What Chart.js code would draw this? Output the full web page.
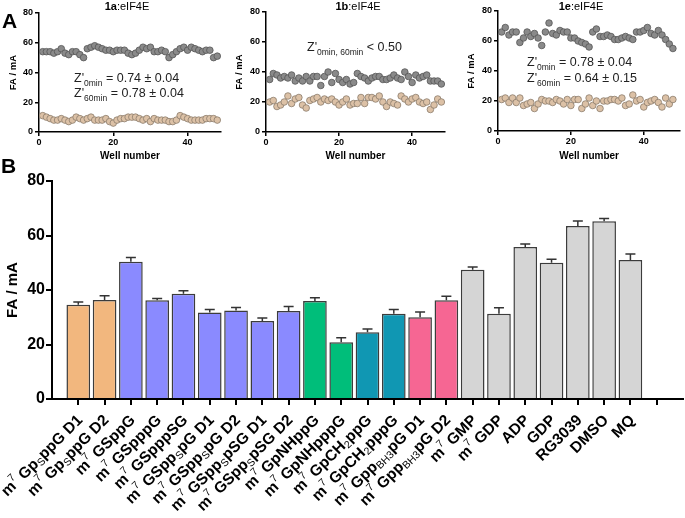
<!DOCTYPE html>
<html>
<head>
<meta charset="utf-8">
<script src="https://cdn.jsdelivr.net/npm/chart.js@4"></script>
<style>
body { margin: 0; background: #fff; }
#fig { position: relative; width: 685px; height: 518px; overflow: hidden; font-family: 'Liberation Sans', Arial, sans-serif; color: #000; }
.box { position: absolute; }
.lbl { position: absolute; font-weight: bold; font-size: 21px; line-height: 21px; }
.ttl { position: absolute; font-size: 11px; line-height: 12px; transform: translateX(-50%); white-space: nowrap; }
.z { position: absolute; font-size: 12.5px; color: #222; white-space: nowrap; }
.z sub { font-size: 8.5px; line-height: 0; }
</style>
</head>
<body>
<div id="fig">
  <div class="box" style="left:0;top:0"><canvas id="p1" width="228" height="165"></canvas></div>
  <div class="box" style="left:226px;top:0"><canvas id="p2" width="226" height="165"></canvas></div>
  <div class="box" style="left:458px;top:0"><canvas id="p3" width="227" height="165"></canvas></div>
  <div class="box" style="left:0;top:160px"><canvas id="bars" width="685" height="358"></canvas></div>

  <div class="lbl" style="left:2px;top:10px">A</div>
  <div class="lbl" style="left:1px;top:155px">B</div>

  <div class="ttl" style="left:127px;top:0"><b>1a</b>:eIF4E</div>
  <div class="ttl" style="left:358px;top:0"><b>1b</b>:eIF4E</div>
  <div class="ttl" style="left:581px;top:0"><b>1e</b>:eIF4E</div>

  <div class="z" style="left:74px;top:71px;line-height:15px">Z'<sub>0min</sub> = 0.74 ± 0.04<br>Z'<sub>60min</sub> = 0.78 ± 0.04</div>
  <div class="z" style="left:307px;top:40px;line-height:15px">Z'<sub>0min, 60min</sub> &lt; 0.50</div>
  <div class="z" style="left:527px;top:54px;line-height:16px">Z'<sub>0min</sub> = 0.78 ± 0.04<br>Z'<sub>60min</sub> = 0.64 ± 0.15</div>
</div>

<script>
Chart.defaults.font.family = "'Liberation Sans', Arial, sans-serif";
Chart.defaults.color = '#000';

// panel A: FA (mA) per well, t = 0 min (grey) and 60 min (tan)
const wells = Array.from({ length: 48 }, (_, i) => i + 1);
const wellTicks = [0, 20, 40];
const faTicks = [0, 20, 40, 60, 80];

const gray1a = [54,54,54,53,54,56,53,52,54,54,52,50, 56,57,58,57,56,55,55,54,55,55,55,53, 52,53,55,57,56,57,54,54,55,54,50,52, 54,56,57,55,57,56,55,54,55,55,50,51];
const tan1a  = [11,10,9,8,8,9,8,7,8,10,9,8, 9,10,8,8,8,9,7,6,8,9,9,10, 10,10,9,8,9,7,9,8,8,8,7,7, 8,11,10,9,8,8,8,8,9,9,9,8];
const gray1b = [35,39,38,36,37,36,38,34,36,34,37,34, 37,37,31,37,40,33,39,35,33,35,32,33, 39,37,36,34,36,37,37,35,35,36,38,36, 35,40,37,33,38,36,37,38,34,34,34,32];
const tan1b  = [20,21,17,18,20,24,19,22,23,18,16,21, 22,23,20,22,21,22,20,18,20,22,18,19, 19,23,19,23,23,22,24,20,17,20,19,18, 24,22,20,22,23,20,19,20,15,18,22,20];
const gray1e = [66,69,64,66,66,59,62,66,63,65,62,57, 66,72,65,64,67,66,66,62,62,60,59,58, 56,66,68,63,63,64,63,61,61,62,63,62, 61,66,66,67,69,65,64,67,64,61,58,55];
const tan1e  = [21,22,19,22,19,22,17,18,19,15,18,21, 20,20,19,21,20,18,21,17,21,21,15,18, 22,17,20,15,20,20,21,21,20,22,17,18, 24,20,21,16,19,20,21,19,16,22,18,21];

// panel B
const categories = [
  'm^{7} Gp_{S}ppG D1', 'm^{7} Gp_{S}ppG D2', 'm^{7} GSppG', 'm^{7} GSpppG', 'm^{7} GSpppSG',
  'm^{7} GSpp_{S}pG D1', 'm^{7} GSpp_{S}pG D2', 'm^{7} GSpp_{S}pSG D1', 'm^{7} GSpp_{S}pSG D2',
  'm^{7} GpNHppG', 'm^{7} GpNHpppG', 'm^{7} GpCH_{2}ppG', 'm^{7} GpCH_{2}pppG',
  'm^{7} Gpp_{BH3}pG D1', 'm^{7} Gpp_{BH3}pG D2', 'm^{7} GMP', 'm^{7} GDP',
  'ADP', 'GDP', 'RG3039', 'DMSO', 'MQ'
];
const barValues = [34.6, 36.3, 50.4, 36.2, 38.6, 31.7, 32.5, 28.6, 32.3, 36.0, 20.8, 24.5, 31.3, 30.0, 36.2, 47.4, 31.3, 55.8, 50.0, 63.5, 65.2, 51.0];
const barErrors = [1.0, 1.6, 1.5, 0.7, 1.1, 1.1, 1.1, 1.1, 1.6, 1.2, 1.7, 1.2, 1.5, 1.9, 1.5, 1.0, 2.2, 1.1, 1.3, 1.8, 1.0, 2.2];
const barColors = [
  '#f2b77e', '#f2b77e',
  '#8a8aff', '#8a8aff', '#8a8aff', '#8a8aff', '#8a8aff', '#8a8aff', '#8a8aff',
  '#00be7a', '#00be7a',
  '#1097b3', '#1097b3',
  '#f66693', '#f66693',
  '#d5d5d5', '#d5d5d5', '#d5d5d5', '#d5d5d5', '#d5d5d5', '#d5d5d5', '#d5d5d5'
];
// one empty slot after the last bar, as in the original axis
const slots = categories.map((c, i) => i).concat([categories.length]);

function wellChart (id, gray, tan, o) {
  new Chart(document.getElementById(id), {
    type: 'scatter',
    data: {
      datasets: [
        { data: gray.map((v, i) => ({ x: wells[i], y: v })), backgroundColor: '#8a8a8a', borderColor: '#555', borderWidth: 0.8, pointRadius: 3.3 },
        { data: tan.map((v, i) => ({ x: wells[i], y: v })), backgroundColor: '#dcc1a6', borderColor: '#8c7c6c', borderWidth: 0.8, pointRadius: 3.3 }
      ]
    },
    options: {
      responsive: false,
      animation: false,
      layout: { padding: { top: o.top, right: o.right, left: 0, bottom: 0 } },
      plugins: { legend: { display: false }, tooltip: { enabled: false } },
      scales: {
        x: {
          type: 'linear', min: 0, max: o.max,
          afterBuildTicks: a => { a.ticks = wellTicks.map(v => ({ value: v })) },
          afterFit: a => { a.height = o.xh },
          border: { color: '#000', width: 1.5 },
          grid: { drawOnChartArea: false, color: '#000', lineWidth: 1.5, tickLength: 4 },
          ticks: { font: { size: 9, weight: 'bold' }, padding: 1, maxRotation: 0 },
          title: { display: true, text: 'Well number', font: { size: 10, weight: 'bold' }, padding: { bottom: 3 } }
        },
        y: {
          min: 0, max: 80,
          afterBuildTicks: a => { a.ticks = faTicks.map(v => ({ value: v })) },
          afterFit: a => { a.width = o.yw },
          border: { color: '#000', width: 1.5 },
          grid: { drawOnChartArea: false, color: '#000', lineWidth: 1.5, tickLength: 4 },
          ticks: { font: { size: 9, weight: 'bold' }, padding: 2 },
          title: { display: true, text: 'FA / mA', font: { size: 9.5, weight: 'bold' }, padding: { top: 8 } }
        }
      }
    }
  });
}

wellChart('p1', gray1a, tan1a, { top: 13, right: 7, max: 49, xh: 33, yw: 39 });
wellChart('p2', gray1b, tan1b, { top: 12, right: 7, max: 49, xh: 33, yw: 40 });
wellChart('p3', gray1e, tan1e, { top: 11, right: 0, max: 50, xh: 34, yw: 40 });

const errorBars = {
  id: 'errorBars',
  afterDatasetsDraw (chart) {
    const ctx = chart.ctx, xs = chart.scales.x, ys = chart.scales.y;
    ctx.save();
    ctx.strokeStyle = '#333';
    ctx.lineWidth = 1.5;
    barValues.forEach((v, i) => {
      const x = xs.getPixelForValue(i);
      const y0 = ys.getPixelForValue(v);
      const y1 = ys.getPixelForValue(v + barErrors[i]);
      ctx.beginPath();
      ctx.moveTo(x, y0); ctx.lineTo(x, y1);
      ctx.moveTo(x - 5, y1); ctx.lineTo(x + 5, y1);
      ctx.stroke();
    });
    ctx.restore();
  }
};

// tick labels with super/subscripts, rotated 45 degrees
const richLabels = {
  id: 'richLabels',
  afterDraw (chart) {
    const ctx = chart.ctx, xs = chart.scales.x;
    const fam = "'Liberation Sans', Arial, sans-serif";
    ctx.save();
    ctx.fillStyle = '#000';
    ctx.textBaseline = 'middle';
    ctx.textAlign = 'left';
    categories.forEach((lab, i) => {
      const segs = lab.split(/(\^\{[^}]*\}|_\{[^}]*\})/).filter(p => p).map(p => {
        if (p[0] === '^') return { t: p.slice(2, -1), font: '10.5px ' + fam, dy: -6 };
        if (p[0] === '_') return { t: p.slice(2, -1), font: '10.5px ' + fam, dy: 4 };
        return { t: p, font: 'bold 15.5px ' + fam, dy: 0 };
      });
      let w = 0;
      segs.forEach(s => { ctx.font = s.font; s.w = ctx.measureText(s.t).width; w += s.w });
      ctx.save();
      ctx.translate(xs.getPixelForValue(i) + 2, xs.top + 19);
      ctx.rotate(-Math.PI / 4);
      let x = -w;
      segs.forEach(s => { ctx.font = s.font; ctx.fillText(s.t, x, s.dy); x += s.w });
      ctx.restore();
    });
    ctx.restore();
  }
};

new Chart(document.getElementById('bars'), {
  type: 'bar',
  data: {
    datasets: [{
      data: barValues.map((v, i) => ({ x: i, y: v })),
      backgroundColor: barColors,
      borderColor: '#3c3c3c',
      borderWidth: 1.5,
      categoryPercentage: 1,
      barPercentage: 0.9
    }]
  },
  options: {
    responsive: false,
    animation: false,
    layout: { padding: { top: 21, right: 2, left: 0, bottom: 0 } },
    plugins: { legend: { display: false }, tooltip: { enabled: false } },
    scales: {
      x: {
        type: 'linear', min: -1, max: 23, offset: false,
        afterBuildTicks: a => { a.ticks = slots.map(v => ({ value: v })) },
        afterFit: a => { a.height = 119 },
        border: { color: '#000', width: 2 },
        grid: { offset: false, drawOnChartArea: false, color: '#000', lineWidth: 2, tickLength: 6 },
        ticks: { callback: () => '' }
      },
      y: {
        min: 0, max: 80,
        afterBuildTicks: a => { a.ticks = faTicks.map(v => ({ value: v })) },
        afterFit: a => { a.width = 52 },
        border: { color: '#000', width: 2 },
        grid: { drawOnChartArea: false, color: '#000', lineWidth: 2, tickLength: 6 },
        ticks: { font: { size: 16, weight: 'bold' }, padding: 1 },
        title: { display: true, text: 'FA / mA', font: { size: 15, weight: 'bold' }, padding: { top: 4 } }
      }
    }
  },
  plugins: [errorBars, richLabels]
});
</script>
</body>
</html>
